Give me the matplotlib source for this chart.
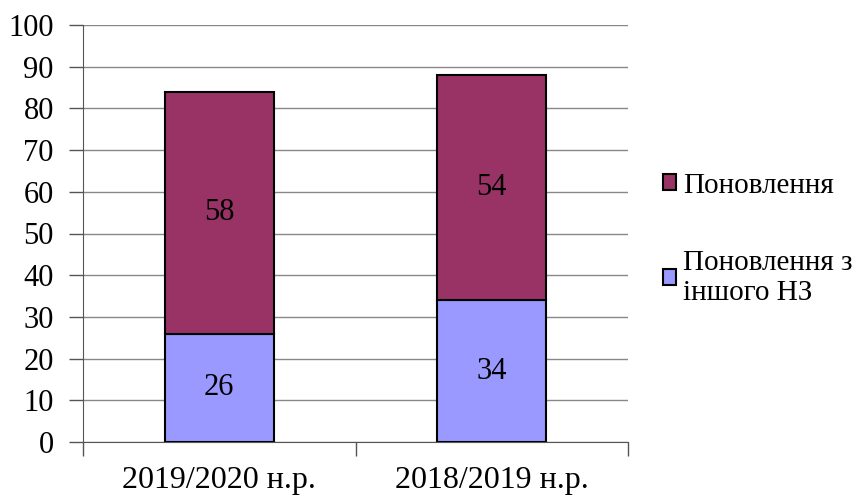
import matplotlib.pyplot as plt
import numpy as np

# дані
categories = ["2019/2020 н.р.", "2018/2019 н.р."]
inshogo_nz = [26, 34]
ponovlennia = [58, 54]
legend_labels = ["Поновлення", "Поновлення з\nіншого НЗ"]

plt.rcParams['font.family'] = ['Liberation Serif', 'DejaVu Serif']

fig = plt.figure(figsize=(8.56, 4.97), dpi=100)
ax = fig.add_axes([83/856, 1 - 442/497, (628-83)/856, (442-25)/497])

x = np.arange(len(categories))
b1 = ax.bar(x, inshogo_nz, width=0.4, color='#9999FF', edgecolor='black', linewidth=1.5, zorder=3)
b2 = ax.bar(x, ponovlennia, width=0.4, bottom=inshogo_nz, color='#993366', edgecolor='black', linewidth=1.5, zorder=3)

for i in range(len(categories)):
    ax.text(x[i], inshogo_nz[i] / 2, str(inshogo_nz[i]), ha='center', va='center', fontsize=22, zorder=4)
    ax.text(x[i], inshogo_nz[i] + ponovlennia[i] / 2, str(ponovlennia[i]), ha='center', va='center', fontsize=22, zorder=4)

ax.set_xlim(-0.5, 1.5)
ax.set_ylim(0, 100)
ax.set_yticks(range(0, 101, 10))
ax.tick_params(axis='y', labelsize=22, length=10, width=1, color='#555555', pad=11)
ax.yaxis.grid(True, color='#888888', linewidth=1, zorder=0)

ax.set_xticks(x)
ax.set_xticklabels(categories, fontsize=23)
ax.tick_params(axis='x', length=0, pad=17)
ax.set_xticks([-0.5, 0.5, 1.5], minor=True)
ax.tick_params(axis='x', which='minor', length=10, width=1, color='#555555')

for s in ['top', 'right']:
    ax.spines[s].set_visible(False)
ax.spines['left'].set_color('#555555')
ax.spines['bottom'].set_color('#555555')

leg = fig.legend([b2, b1], legend_labels, loc='upper left', bbox_to_anchor=(648/856, 1 - 158/497),
                 frameon=False, fontsize=21, handlelength=0.45, handleheight=0.45,
                 handletextpad=0.25, labelspacing=1.75, borderpad=0)

plt.savefig('out.png', dpi=100)
